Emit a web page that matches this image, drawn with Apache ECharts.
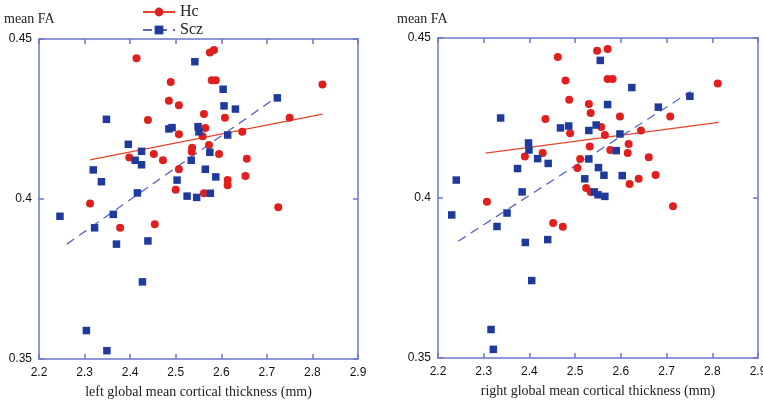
<!DOCTYPE html>
<html>
<head>
<meta charset="utf-8">
<script src="https://cdn.jsdelivr.net/npm/echarts@6/dist/echarts.min.js"></script>
<style>
html,body{margin:0;padding:0;background:#fff;}
#main{width:763px;height:401px;}
</style>
</head>
<body>
<div id="main"></div>
<script>
// ---- data ----
const xTicks = [2.2, 2.3, 2.4, 2.5, 2.6, 2.7, 2.8, 2.9];
const yTicks = [0.35, 0.4, 0.45];

const leftHc = [
  [2.414,0.4440],[2.575,0.4458],[2.584,0.4466],[2.822,0.4358],[2.489,0.4366],
  [2.579,0.4371],[2.588,0.4371],[2.485,0.4307],[2.507,0.4293],[2.562,0.4266],
  [2.608,0.4254],[2.439,0.4247],[2.750,0.4254],[2.565,0.4222],[2.507,0.4202],
  [2.559,0.4196],[2.646,0.4210],[2.573,0.4169],[2.536,0.4160],[2.535,0.4148],
  [2.452,0.4141],[2.398,0.4130],[2.472,0.4121],[2.595,0.4141],[2.656,0.4126],
  [2.507,0.4093],[2.653,0.4072],[2.614,0.4059],[2.614,0.4043],[2.500,0.4029],
  [2.562,0.4018],[2.312,0.3986],[2.725,0.3974],[2.378,0.3910],[2.454,0.3921]
];
const leftScz = [
  [2.542,0.4429],[2.604,0.4343],[2.723,0.4316],[2.606,0.4291],[2.631,0.4281],
  [2.348,0.4249],[2.485,0.4219],[2.492,0.4223],[2.549,0.4226],[2.551,0.4210],
  [2.614,0.4200],[2.396,0.4171],[2.425,0.4149],[2.575,0.4146],[2.411,0.4121],
  [2.425,0.4107],[2.534,0.4121],[2.319,0.4091],[2.565,0.4093],[2.588,0.4069],
  [2.337,0.4054],[2.503,0.4059],[2.416,0.4019],[2.525,0.4009],[2.546,0.4005],
  [2.576,0.4018],[2.246,0.3946],[2.322,0.3910],[2.363,0.3952],[2.370,0.3859],
  [2.439,0.3869],[2.427,0.3741],[2.304,0.3589],[2.349,0.3526]
];
const rightHc = [
  [2.462,0.4441],[2.548,0.4460],[2.571,0.4466],[2.812,0.4358],[2.479,0.4367],
  [2.571,0.4372],[2.582,0.4372],[2.487,0.4307],[2.530,0.4294],[2.534,0.4266],
  [2.598,0.4255],[2.435,0.4247],[2.708,0.4255],[2.557,0.4222],[2.489,0.4202],
  [2.565,0.4197],[2.644,0.4211],[2.617,0.4169],[2.532,0.4161],[2.577,0.4150],
  [2.429,0.4141],[2.390,0.4130],[2.511,0.4122],[2.615,0.4141],[2.661,0.4127],
  [2.505,0.4094],[2.676,0.4072],[2.639,0.4060],[2.619,0.4044],[2.524,0.4031],
  [2.534,0.4019],[2.307,0.3988],[2.714,0.3974],[2.473,0.3910],[2.452,0.3922]
];
const rightScz = [
  [2.555,0.4430],[2.624,0.4345],[2.751,0.4318],[2.682,0.4284],[2.571,0.4292],
  [2.337,0.4250],[2.468,0.4219],[2.486,0.4225],[2.546,0.4228],[2.530,0.4211],
  [2.598,0.4200],[2.398,0.4172],[2.399,0.4150],[2.590,0.4148],[2.418,0.4123],
  [2.441,0.4108],[2.530,0.4122],[2.374,0.4092],[2.551,0.4095],[2.563,0.4071],
  [2.603,0.4070],[2.240,0.4056],[2.521,0.4060],[2.384,0.4019],[2.542,0.4019],
  [2.550,0.4010],[2.565,0.4005],[2.230,0.3947],[2.329,0.3911],[2.351,0.3953],
  [2.391,0.3861],[2.440,0.3870],[2.405,0.3742],[2.316,0.3589],[2.321,0.3527]
];
// fitted regression lines (end points)
const leftHcFit   = [[2.312,0.4122],[2.822,0.4265]];
const leftSczFit  = [[2.261,0.3859],[2.723,0.4320]];
const rightHcFit  = [[2.304,0.4140],[2.814,0.4236]];
const rightSczFit = [[2.244,0.3865],[2.753,0.4333]];

const xNames = ['left global mean cortical thickness (mm)', 'right global mean cortical thickness (mm)'];

// ---- styling ----
const RED = '#e0201e';
const RED_LINE = '#e8452c';
const BLUE = '#1e3a9c';
const BLUE_LINE = '#5a66c4';
const FRAME = '#6a76cc';
const SERIF = '"Liberation Serif","DejaVu Serif",serif';
const SANS = '"Liberation Sans",Arial,sans-serif';

const chart = echarts.init(document.getElementById('main'), null, {renderer:'canvas'});

const grids = [
  {left:39, top:39, width:319, height:320, containLabel:false, outerBoundsMode:'none'},
  {left:438, top:38, width:320, height:320, containLabel:false, outerBoundsMode:'none'}
];

const xAxes = [], yAxes = [];
grids.forEach((g, i) => {
  const base = {
    gridIndex:i, type:'value', min:xTicks[0], max:xTicks[xTicks.length-1], interval:0.1,
    axisLine:{show:true, onZero:false, lineStyle:{color:FRAME, width:1.5}},
    axisTick:{show:true, inside:true, length:5, lineStyle:{color:FRAME, width:1.5}},
    splitLine:{show:false}
  };
  xAxes.push(Object.assign({}, base, {
    position:'bottom',
    axisLabel:{show:true, color:'#111', fontFamily:SANS, fontSize:12, margin:8,
      formatter:v => (Math.round(v*10)/10).toFixed(1)},
    name:xNames[i], nameLocation:'middle', nameGap:26,
    nameTextStyle:{fontFamily:SERIF, fontSize:14, color:'#222'}
  }));
  xAxes.push(Object.assign({}, base, {position:'top', axisLabel:{show:false}}));
  const ybase = {
    gridIndex:i, type:'value', min:yTicks[0], max:yTicks[yTicks.length-1], interval:0.05,
    axisLine:{show:true, onZero:false, lineStyle:{color:FRAME, width:1.5}},
    axisTick:{show:true, inside:true, length:5, lineStyle:{color:FRAME, width:1.5}},
    splitLine:{show:false}
  };
  yAxes.push(Object.assign({}, ybase, {
    position:'left',
    axisLabel:{show:true, color:'#111', fontFamily:SANS, fontSize:12, margin:7,
      formatter:v => String(Math.round(v*100)/100)}
  }));
  yAxes.push(Object.assign({}, ybase, {position:'right', axisLabel:{show:false}}));
});

function fitLine(name, data, gi, color, dashed) {
  return {
    name, type:'line', data, xAxisIndex:gi*2, yAxisIndex:gi*2,
    symbol: name === 'Hc' ? 'circle' : 'rect', symbolSize:8, showSymbol:false,
    itemStyle:{color: name === 'Hc' ? RED : BLUE},
    lineStyle:{color, width:1.3, type: dashed ? [9,6] : 'solid'},
    silent:true, animation:false, z:1
  };
}
function scatter(name, data, gi, color, symbol, size) {
  return {
    name, type:'scatter', data, xAxisIndex:gi*2, yAxisIndex:gi*2,
    symbol, symbolSize:size, itemStyle:{color, opacity:1}, animation:false, z:3
  };
}

const option = {
  backgroundColor:'#fff',
  animation:false,
  title:[
    {text:'mean FA', left:-1, top:7, textStyle:{fontFamily:SERIF, fontSize:14, fontWeight:'normal', color:'#222'}},
    {text:'mean FA', left:392, top:7, textStyle:{fontFamily:SERIF, fontSize:14, fontWeight:'normal', color:'#222'}}
  ],
  legend:{
    orient:'vertical', left:137, top:-1, itemWidth:32, itemHeight:11, itemGap:2,
    data:['Hc','Scz'],
    textStyle:{fontFamily:SERIF, fontSize:16, color:'#222'}
  },
  grid:grids,
  xAxis:xAxes,
  yAxis:yAxes,
  series:[
    fitLine('Hc', leftHcFit, 0, RED_LINE, false),
    fitLine('Scz', leftSczFit, 0, BLUE_LINE, true),
    fitLine('Hc', rightHcFit, 1, RED_LINE, false),
    fitLine('Scz', rightSczFit, 1, BLUE_LINE, true),
    scatter('Hc', leftHc, 0, RED, 'circle', 8),
    scatter('Scz', leftScz, 0, BLUE, 'rect', 7.5),
    scatter('Hc', rightHc, 1, RED, 'circle', 8),
    scatter('Scz', rightScz, 1, BLUE, 'rect', 7.5)
  ]
};
chart.setOption(option);
</script>
</body>
</html>
